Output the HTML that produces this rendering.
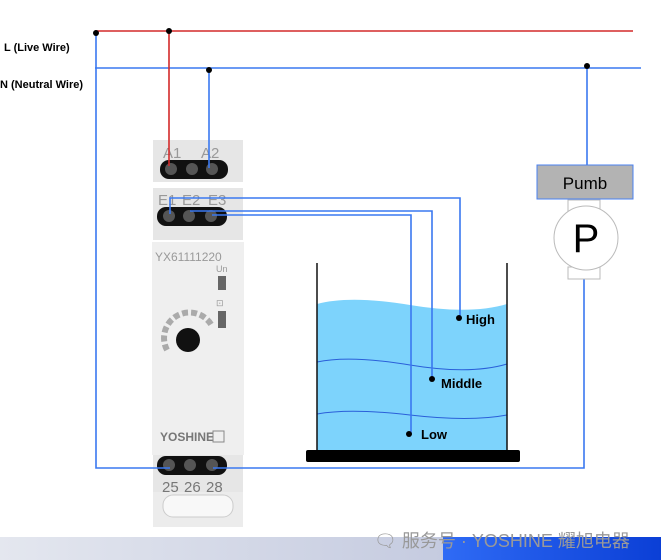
<!DOCTYPE html>
<html><head><meta charset="utf-8"><style>
html,body{margin:0;padding:0;background:#fff;}
svg{display:block;font-family:"Liberation Sans","Noto Sans CJK SC",sans-serif;}
</style></head><body>
<svg width="661" height="560" viewBox="0 0 661 560" xmlns="http://www.w3.org/2000/svg">
<defs>
<linearGradient id="bar" x1="0" x2="1" y1="0" y2="0">
<stop offset="0" stop-color="#e4e7ef"/><stop offset="0.67" stop-color="#c5cbe0"/><stop offset="0.67" stop-color="#2f6bf5"/><stop offset="1" stop-color="#0b3fd6"/>
</linearGradient>
</defs>
<rect x="0" y="537" width="661" height="23" fill="url(#bar)"/>
<text x="4" y="51" font-size="11" font-weight="bold">L (Live Wire)</text>
<text x="0" y="88" font-size="11" font-weight="bold">N (Neutral Wire)</text>
<line x1="95" y1="31" x2="633" y2="31" stroke="#d42a2a" stroke-width="1.6"/>
<line x1="95" y1="68" x2="641" y2="68" stroke="#3a78f0" stroke-width="1.6"/>
<g>
<rect x="153" y="140" width="90" height="42" fill="#e6e6e6"/>
<text x="163" y="158" font-size="15" fill="#999">A1</text>
<text x="201" y="158" font-size="15" fill="#999">A2</text>
<rect x="160" y="160" width="68" height="19" rx="9" fill="#111"/>
<circle cx="171" cy="169" r="6" fill="#555"/><circle cx="192" cy="169" r="6" fill="#555"/><circle cx="212" cy="169" r="6" fill="#555"/>
<rect x="153" y="188" width="90" height="52" fill="#e6e6e6"/>
<text x="158" y="205" font-size="15" fill="#999">E1</text>
<text x="182" y="205" font-size="15" fill="#999">E2</text>
<text x="208" y="205" font-size="15" fill="#999">E3</text>
<rect x="157" y="207" width="70" height="19" rx="9" fill="#111"/>
<circle cx="169" cy="216" r="6" fill="#555"/><circle cx="189" cy="216" r="6" fill="#555"/><circle cx="211" cy="216" r="6" fill="#555"/>
<rect x="152" y="242" width="92" height="213" fill="#efefef"/>
<text x="155" y="261" font-size="12" fill="#999">YX61111220</text>
<text x="216" y="272" font-size="9" fill="#999">Un</text>
<rect x="218" y="276" width="8" height="14" fill="#666"/>
<rect x="218" y="311" width="8" height="17" fill="#666"/>
<text x="216" y="306" font-size="9" fill="#999">⊡</text>
<circle cx="188" cy="340" r="12" fill="#111"/>
<path d="M167 350 A24 24 0 0 1 212 326" fill="none" stroke="#aaa" stroke-width="6" stroke-dasharray="6 3"/>
<text x="160" y="441" font-size="12" font-weight="bold" fill="#777">YOSHINE</text>
<rect x="213" y="431" width="11" height="11" fill="none" stroke="#888"/>
<rect x="153" y="455" width="90" height="37" fill="#e6e6e6"/>
<rect x="157" y="456" width="70" height="19" rx="9" fill="#111"/>
<circle cx="169" cy="465" r="6" fill="#555"/><circle cx="190" cy="465" r="6" fill="#555"/><circle cx="212" cy="465" r="6" fill="#555"/>
<text x="162" y="492" font-size="15" fill="#777">25</text>
<text x="184" y="492" font-size="15" fill="#777">26</text>
<text x="206" y="492" font-size="15" fill="#777">28</text>
<rect x="153" y="492" width="90" height="35" fill="#ececec"/>
<rect x="163" y="495" width="70" height="22" rx="10" fill="#f8f8f8" stroke="#ccc"/>
</g>
<path d="M317 304 Q350 295 410 305 T507 304 L507 452 L317 452 Z" fill="#7dd3fc"/>
<path d="M317 362 Q350 355 410 365 T507 364" fill="none" stroke="#2a5fd9" stroke-width="1"/>
<path d="M317 414 Q350 408 410 415 T507 415" fill="none" stroke="#2a5fd9" stroke-width="1"/>
<line x1="317" y1="263" x2="317" y2="452" stroke="#111" stroke-width="1.5"/>
<line x1="507" y1="263" x2="507" y2="452" stroke="#111" stroke-width="1.5"/>
<rect x="306" y="450" width="214" height="12" rx="2" fill="#000"/>
<g fill="none" stroke="#3a78f0" stroke-width="1.6">
<polyline points="96,33 96,468 170,468"/>
<polyline points="209,70 209,168"/>
<polyline points="170,214 170,198 460,198 460,318"/>
<polyline points="190,211 432,211 432,379"/>
<polyline points="212,215 411,215 411,434"/>
<polyline points="587,66 587,165"/>
<polyline points="584,279 584,468 213,468"/>
</g>
<line x1="169" y1="31" x2="169" y2="166" stroke="#d42a2a" stroke-width="1.6"/>
<g fill="#000">
<circle cx="96" cy="33" r="3"/><circle cx="169" cy="31" r="3"/><circle cx="209" cy="70" r="3"/><circle cx="587" cy="66" r="3"/>
<circle cx="459" cy="318" r="3"/><circle cx="432" cy="379" r="3"/><circle cx="409" cy="434" r="3"/>
</g>
<text x="466" y="324" font-size="13" font-weight="bold">High</text>
<text x="441" y="388" font-size="13" font-weight="bold">Middle</text>
<text x="421" y="439" font-size="13" font-weight="bold">Low</text>
<rect x="537" y="165" width="96" height="34" fill="#b3b3b3" stroke="#4a80f0" stroke-width="1"/>
<text x="585" y="189" font-size="17" text-anchor="middle">Pumb</text>
<rect x="568" y="200" width="32" height="12" fill="#fff" stroke="#bbb"/>
<rect x="568" y="267" width="32" height="12" fill="#fff" stroke="#bbb"/>
<circle cx="586" cy="238" r="32" fill="#fff" stroke="#bbb"/>
<text x="586" y="252" font-size="40" text-anchor="middle">P</text>
<text x="374" y="547" font-size="18" fill="#999">🗨 服务号 · YOSHINE 耀旭电器</text>
</svg>
</body></html>
